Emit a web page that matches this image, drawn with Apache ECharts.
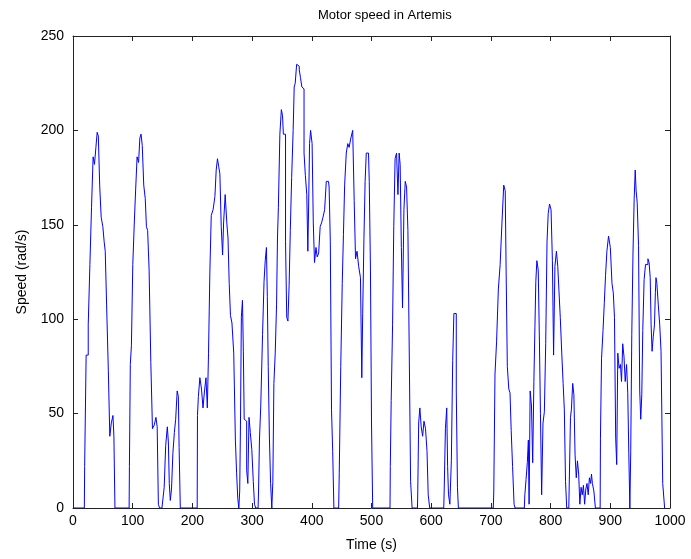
<!DOCTYPE html>
<html>
<head>
<meta charset="utf-8">
<script src="https://cdn.jsdelivr.net/npm/echarts@6/dist/echarts.min.js"></script>
<style>html,body{margin:0;padding:0;background:#fff}#c{width:691px;height:559px}</style>
</head>
<body>
<div id="c"></div>
<script>
const xTicks = [0,100,200,300,400,500,600,700,800,900,1000];
const yTicks = [0,50,100,150,200,250];
const timeS = [0,19,20,24,27,29.6,32.4,35,37,39.7,41.3,43.6,45.8,48.6,51.4,53,55,57.5,60.8,62.5,65.8,68,69,71.5,
94,95,97,98.7,101.6,104,106,108.7,111,113,115,117,120,122,124,126,129,131.7,134.5,137.8,140,142,144,146,
152,153.5,157,159,160.5,162,164,166,168.6,171,173,176,177,178.5,181,
208,209,211,214,216.5,219,221.5,224,226,228,230.6,232.6,236.7,238.7,241,243,245,247,249.6,251.5,253,256.8,258.5,260.8,262.5,265,267.5,271,273,275,277,278.5,280,281,283,284.7,286,287.5,289.8,292,293.7,296,298,301,303,305,307,310,311.6,313,316,319,321,323,325,326,328,330,332,334,335.5,337.5,340,342,343,345,348,350,351.8,353,355,357,359,361,363,365,367.5,370,371,373.5,375.7,378,380,382,384.7,386,388,390.5,392.7,394,395.5,397,399,402,403,406,408,410,413,415,417.5,420,423,425.5,428,430,432,434,436,438,445,447,450,452,454,456,459.5,461,464,467,470,472,474.5,477,480,483,484.5,486,488.6,490,492.5,495,497.5,499,501,503,
531,532,534,536.6,538,541,543,545.6,547,549,551,553,555.6,557.5,560,562,564,567,569,
577,578,580,582,584.5,586.8,589,592,594,596,599,
621,622.6,625,627,628,630,632.5,635,637,639,641,643,645,646,
704,705.7,708,711,714,717,720,723,725,726,729,731,733,735,737.6,740,741,
756,757.7,760,762,763.5,764.5,767,769,771,773,774.5,776,778,780.6,782,784,786,788.5,790.6,793,795,797,799.5,802,804,806,808.5,811,813,815,817.4,820,822,824,826,828,
833,833.6,836,838,840,842,844,846,848,850,852,854,856,858,860,862,864,866,868,869,871,874,876,
883,884,886.6,889,891,893,895.6,898.5,901.6,904,906,908,910,911.5,913.6,916,918,919.6,922,924,926,928.5,930,932,933.5,935,937,939,941,942.5,944,946,948.6,950,952,953.5,955.3,958,960,962,964,966,967.7,969,971,973,975,976,977,979,981.6,984,986,987.6,988,990,992];
const speed = [0,0,22,81,97,129,159,186,182,191,199,197,171,154,149,141,136,108,73,38,45,49,38,0,
0,22,76,86,129,152,169,186,183,196,198,192,171,164,149,147,126,77,42,44,48,43,2,0,
0,11,33,43,35,13,4,10,29,40,47,62,59,32,0,
0,49,59,69,63,53,62,69,53,82,126,155,158,165,179,185,181,177,149,134,151,166,151,143,119,102,98,82,36,19,5,0,9,44,101,110,83,47,46,20,13,48,40,31,14,2,0,0,9,36,54,92,120,131,138,112,75,37,13,0,14,66,82,108,143,159,198,211,208,198,198,141,101,99,118,147,175,200,223,225,235,234,232,228,223,222,188,176,166,136,161,193,200,193,151,130,138,133,135,149,151,154,158,173,173,170,141,52,30,0,0,19,75,119,145,171,188,193,191,196,200,163,132,136,128,122,69,103,142,173,188,188,173,126,45,0,
0,22,57,97,149,185,188,166,188,182,138,106,158,173,170,147,89,14,0,
0,9,45,53,43,38,46,42,30,7,0,
0,10,42,53,22,7,2,25,78,103,103,62,11,0,
0,9,71,88,116,129,151,171,168,126,75,63,61,41,22,2,0,
0,7,15,24,36,2,62,54,24,67,96,120,131,126,88,50,7,45,51,87,141,156,161,158,131,81,128,136,128,115,101,82,66,52,14,0,
0,48,52,66,60,28,16,25,18,2,11,7,12,2,10,13,7,16,13,18,13,9,0,
0,37,79,94,109,123,136,144,138,119,114,101,37,23,82,74,76,67,87,80,67,76,61,29,0,30,92,135,164,179,168,162,139,62,47,60,94,121,129,129,132,130,122,97,83,91,97,114,122,119,108,97,83,83,13,13,0];

const pts = timeS.map((t,i)=>[t, speed[i]]);
const chart = echarts.init(document.getElementById('c'));
const axisCol = '#222';
const fnt = 'Liberation Sans, Arial, sans-serif';
function ax(extra){
  return Object.assign({
    axisLine:{show:true, onZero:false, lineStyle:{color:axisCol, width:1}},
    axisTick:{show:true, inside:true, length:5, lineStyle:{color:axisCol}},
    splitLine:{show:false}
  }, extra);
}
chart.setOption({
  animation:false,
  backgroundColor:'#fff',
  title:{text:'Motor speed in Artemis', left:313, top:4, textStyle:{fontSize:13, fontWeight:'normal', color:'#000', fontFamily:fnt}},
  grid:{left:73, right:21, top:36, bottom:51, containLabel:false},
  xAxis:[ax({type:'value', min:0, max:1000, interval:100, position:'bottom',
    name:'Time (s)', nameLocation:'middle', nameGap:30, nameTextStyle:{fontSize:14, color:'#000', fontFamily:fnt},
    axisLabel:{show:true, color:'#000', fontSize:14, fontFamily:fnt, margin:6, formatter:(v)=>String(v)}}),
    ax({type:'value', min:0, max:1000, interval:100, position:'top', axisLabel:{show:false}})],
  yAxis:[ax({type:'value', min:0, max:250, interval:50, position:'left',
    name:'Speed (rad/s)', nameLocation:'middle', nameGap:44, nameTextStyle:{fontSize:14, color:'#000', fontFamily:fnt},
    axisLabel:{show:true, color:'#000', fontSize:14, fontFamily:fnt, margin:9}}),
    ax({type:'value', min:0, max:250, interval:50, position:'right', axisLabel:{show:false}})],
  series:[{type:'line', data:pts, step:'middle', showSymbol:false, symbol:'none',
    lineStyle:{color:'#0000ff', width:1}, xAxisIndex:0, yAxisIndex:0},
    {type:'line', data:[], xAxisIndex:1, yAxisIndex:1, silent:true}]
});
</script>
</body>
</html>
